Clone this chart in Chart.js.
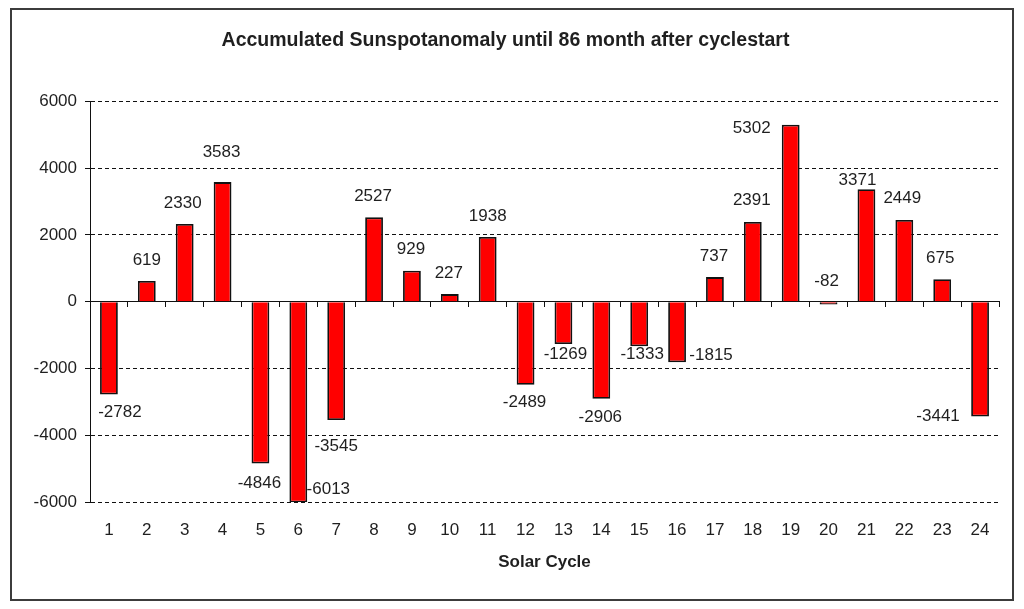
<!DOCTYPE html>
<html>
<head>
<meta charset="utf-8">
<script src="https://cdn.jsdelivr.net/npm/chart.js@4/dist/chart.umd.min.js"></script>
<style>
    html, body { margin: 0; padding: 0; background: #fff; }
    .frame {
        position: absolute;
        left: 10px; top: 8px;
        width: 1000px; height: 589px;
        border: 2px solid #3c3c3c;
        background: #fff;
    }
    canvas { display: block; }
</style>
</head>
<body>
<div class="frame"><canvas id="chart" width="1000" height="589"></canvas></div>
<script>
// Solar cycles 1..24 and accumulated anomaly 86 months after cycle start
const cycles = ['1', '2', '3', '4', '5', '6', '7', '8', '9', '10', '11', '12',
    '13', '14', '15', '16', '17', '18', '19', '20', '21', '22', '23', '24'];
const anomaly = [-2782, 619, 2330, 3583, -4846, -6013, -3545, 2527, 929, 227, 1938, -2489,
    -1269, -2906, -1333, -1815, 737, 2391, 5302, -82, 3371, 2449, 675, -3441];
const yTicks = [-6000, -4000, -2000, 0, 2000, 4000, 6000];

// label nudges (px) from the bar end, as placed in the original
const labelNudge = [
    [11, 18], [0, -21], [-2, -21], [-1, -30], [-1, 20], [30, -13],
    [0, 26], [-1, -21], [-1, -21], [-1, -21], [0, -21], [-1, 18],
    [2, 10], [-1, 19], [3, 8], [34, -7], [-1, -21], [-1, -22],
    [-39, 4], [-2, -23], [-9, -9], [-2, -22], [-2, -21], [-42, 0]
];

const FONT = 'Liberation Sans, Arial, sans-serif';
const TEXT = '#1f1f1f';

/**
 * Draws value labels next to each bar end
 */
const valueLabels = {
    id: 'valueLabels',
    afterDatasetsDraw(chart) {
        const ctx = chart.ctx;
        const meta = chart.getDatasetMeta(0);
        ctx.save();
        ctx.font = '17px ' + FONT;
        ctx.fillStyle = TEXT;
        ctx.textAlign = 'center';
        ctx.textBaseline = 'middle';
        meta.data.forEach((bar, i) => {
            const [dx, dy] = labelNudge[i];
            ctx.fillText(String(anomaly[i]), bar.x + dx, bar.y + dy);
        });
        ctx.restore();
    }
};

new Chart(document.getElementById('chart'), {
    type: 'bar',
    data: {
        labels: cycles,
        datasets: [{
            data: anomaly,
            xAxisID: 'x',
            yAxisID: 'y',
            backgroundColor: '#ff0000',
            borderColor: '#111',
            borderWidth: 1.8,
            categoryPercentage: 1,
            barPercentage: 0.47
        }]
    },
    options: {
        responsive: false,
        animation: false,
        layout: { padding: { top: 0, right: 13, bottom: 22, left: 0 } },
        plugins: {
            legend: { display: false },
            tooltip: { enabled: false },
            title: {
                display: true,
                text: 'Accumulated Sunspotanomaly until 86 month after cyclestart',
                color: TEXT,
                font: { family: FONT, size: 19.5, weight: 'bold' },
                padding: { top: 19, bottom: 49 }
            }
        },
        scales: {
            x: {
                type: 'category',
                position: { y: 0 },
                offset: true,
                grid: { display: true, drawOnChartArea: false, offset: true, color: '#111', tickLength: 5 },
                border: { display: true, color: '#111', width: 1 },
                ticks: { display: false }
            },
            x2: {
                type: 'category',
                position: 'bottom',
                offset: true,
                afterFit: axis => { axis.height = 75; },
                grid: { display: false, drawTicks: false },
                border: { display: false },
                ticks: { color: TEXT, font: { family: FONT, size: 17 }, padding: 18, maxRotation: 0 },
                title: {
                    display: true,
                    text: 'Solar Cycle',
                    color: TEXT,
                    font: { family: FONT, size: 17, weight: 'bold' },
                    padding: { top: 12, bottom: 4 }
                }
            },
            y: {
                min: -6000,
                max: 6000,
                afterBuildTicks: axis => { axis.ticks = yTicks.map(v => ({ value: v })); },
                afterFit: axis => { axis.width = 78; },
                grid: { color: '#111', lineWidth: 1, tickLength: 5, tickColor: '#111' },
                border: { display: true, color: '#111', width: 1, dash: [4, 3] },
                ticks: {
                    color: TEXT,
                    font: { family: FONT, size: 17 },
                    padding: 8,
                    callback: v => String(v)
                }
            }
        }
    },
    plugins: [valueLabels]
});
</script>
</body>
</html>
